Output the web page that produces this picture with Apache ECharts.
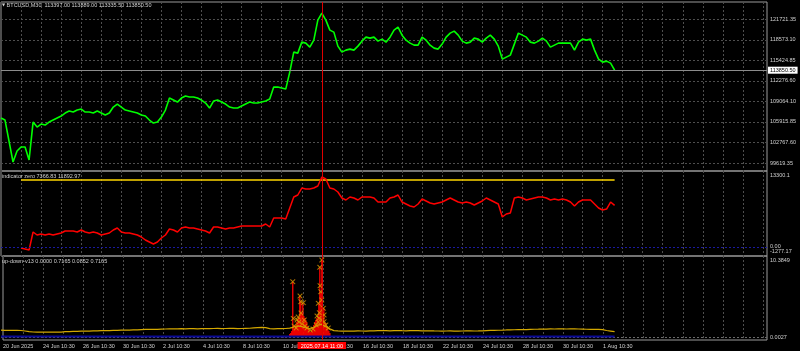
<!DOCTYPE html>
<html><head><meta charset="utf-8">
<script src="https://cdn.jsdelivr.net/npm/echarts@6/dist/echarts.min.js"></script>
<style>html,body{margin:0;padding:0;background:#000}#c{width:800px;height:351px}</style>
</head><body><div id="c"></div>
<script>
// ---------- data ----------
const symbolName = 'BTCUSD,M30';
const headerVals = ['113397.00', '113889.00', '113335.50', '113850.50'];
const lastPrice = 113850.50;
const indName = 'indicator zero';
const indHeader = ['7366.83', '11892.97'];
const udName = 'up-down-v13';
const udHeader = ['0.0000', '0.7165', '0.0852', '0.7165'];

const labelIdx = [0, 10, 20, 30, 40, 50, 60, 70, 80, 90, 100, 110, 120, 130, 140, 150];
const labelText = ['20 Jun 2025', '24 Jun 10:30', '26 Jun 10:30', '30 Jun 10:30', '2 Jul 10:30', '4 Jul 10:30',
  '8 Jul 10:30', '10 Jul 10:30', '14 Jul 10:30', '16 Jul 10:30', '18 Jul 10:30', '22 Jul 10:30',
  '24 Jul 10:30', '28 Jul 10:30', '30 Jul 10:30', '1 Aug 10:30'];
const crossIdx = 80;
const crossLabel = '2025.07.14 11:00';

const priceTicks = ['99619.35', '102767.60', '105915.85', '109064.10', '112276.60', '115424.85', '118573.10', '121721.35'];
const indTicks = ['-1277.17', '0.00', '13300.1'];
const udTicks = ['0.0027', '10.3849'];

const priceVals = [106512,106206,102989,99772,101457,102070,102070,100078,105900,105134,
105593,105440,105900,106206,106512,106819,107279,107585,107432,107738,
107891,107432,107432,107279,107585,107279,106972,107279,108198,108657,
108198,107738,107585,107432,107279,106972,106819,106206,105747,105900,
106666,107738,109577,109270,108964,109577,109883,109730,109730,109577,
109270,108810,108045,109117,109270,108964,108657,108198,108045,108045,
108351,108657,108964,108810,108810,108964,109117,109423,111262,111262,
111109,110955,113560,116624,116471,118156,118003,117390,118462,121526,
122599,121526,119994,119688,117543,116624,116930,117084,116930,117543,
118309,118922,118769,118922,118309,118615,118156,118922,119994,120454,
119228,118462,118003,117696,117696,118922,118462,117696,117237,117084,
117850,118922,119535,119841,119228,118309,118003,118156,118769,118615,
118156,118769,119228,118615,117543,115552,115858,116164,117850,119535,
119228,118922,118156,118003,118309,118769,118309,117390,117696,118003,
118003,118003,118003,116930,118156,118615,118462,118615,116930,115552,
115092,115245,114939,113850.5];

const indVals = [null,null,null,null,null,-213,-391,-568,2632,2099,
2276,2099,2276,2099,2276,2454,2810,2810,2810,2632,
2988,2632,2454,2632,2454,2099,2276,2454,2988,3343,
2632,2454,2454,2276,2099,1743,1210,854,498,854,
1565,2099,3165,2988,2632,3343,3521,3343,3343,3165,
2988,2810,2454,3521,3521,3343,3165,3343,3343,3521,
3699,3699,3699,3699,3699,3699,4054,3521,5121,5121,
5121,4943,6899,8855,9211,10455,10277,10277,10455,10811,
12411,12055,10455,10277,9744,8677,8322,8855,8677,8322,
8855,8855,8855,8677,7966,7966,7966,8677,8855,9211,
7966,7610,7255,7077,7610,8499,8144,7788,7610,7788,
7966,8322,8677,8322,7966,7788,7966,7788,7433,7788,
8144,8677,8322,7966,7610,5299,5832,6010,8677,8855,
8677,8322,8499,8677,8855,8855,8677,8322,8499,8322,
8499,8322,7966,7255,7966,8322,8322,8322,7610,6899,
6544,6721,7966,7366.83];

const indLevel = 11892.97;
const indLevelIdx = [5, 153];

const udYellow = [0.92,0.90,0.91,0.89,0.90,0.88,0.81,0.72,
0.68,0.66,0.67,0.65,0.67,0.68,0.66,0.67,
0.72,0.74,0.75,0.76,
0.79,0.81,0.80,0.83,0.82,
0.86,0.88,0.87,0.89,0.90,
0.92,0.94,0.93,0.95,0.96,
1.00,1.03,1.02,1.05,1.04,1.06,
1.08,1.10,1.11,1.09,1.12,1.11,1.13,1.12,1.10,1.12,
1.14,1.13,1.15,1.16,1.14,1.15,1.17,1.16,1.14,1.15,1.17,1.18,
1.24,1.28,1.29,1.26,
1.14,1.11,1.12,1.13,1.15,
1.20,1.35,1.50,1.40,1.25,1.15,1.30,1.60,1.70,1.40,1.10,
0.86,0.82,0.80,0.81,0.79,0.80,0.82,0.81,0.80,0.82,
0.84,0.85,0.86,0.85,0.84,0.86,0.87,0.85,0.84,0.85,0.86,0.85,0.84,0.83,0.84,
0.82,0.81,0.80,0.81,0.82,0.80,0.79,0.81,0.82,0.83,0.81,0.82,0.84,
0.87,0.89,0.90,0.91,0.92,
0.95,0.97,0.98,0.99,1.00,1.01,1.03,
1.05,1.06,1.08,1.07,1.09,1.08,1.10,1.09,1.08,1.09,1.10,1.08,1.07,
1.05,1.04,1.03,1.02,1.00,
0.88,0.80,0.7165];

const navyIdx = [0, 153];
const navyVals = [0.0852, 0.0852];

const histStart = 72, histStep = 0.25;
const histVals = [0.40,0.54,0.81,7.46,1.48,1.21,1.62,2.02,2.43,2.70,
5.53,4.76,3.24,4.63,2.83,2.56,2.29,2.02,1.48,1.08,
0.81,0.67,0.94,1.35,1.62,2.02,2.29,2.56,2.83,4.54,
9.40,6.11,10.3849,3.37,3.87,2.06,1.89,1.48,1.08,0.81,
0.54];

const markerIdx = [72.74,74.56,74.74,75.39,74.81,72.89,73.07,80.0,79.48,79.55,79.73,79.98,79.13,80.37,79.38,79.30,80.55,
73.8,74.3,75.1,75.8,76.3,73.6,77.8,78.6,79.1,80.1,81.0,81.6,77.1,75.6,74.1,80.55,78.8];
const markerVals = [7.46,5.53,4.76,4.63,3.24,2.51,1.48,10.3849,9.40,6.92,6.11,4.99,4.54,3.87,3.28,2.52,2.06,
2.29,2.02,1.75,1.48,1.21,1.21,1.08,1.62,2.02,2.29,1.62,1.21,0.94,2.29,2.70,2.97,2.83];

// ---------- layout / style ----------
const XMAX = 191;
const FONT = 'Liberation Sans';
const FS = 5.5;
const TXT = '#d0d0d0';
const GRIDC = '#4e4e4e';
const FRAMEC = '#9a9a9a';
const PBASE = 99619.35, PSTEP = 3148.25, PMIN = 96471.10, PMAX = 124310;
const IMIN = -1277.17, IMAX = 13300.1;
const UMIN = 0.0027, UMAX = 10.3849;

const L = 1, R = 33;
const txtStyle = {color: TXT, fontSize: FS, fontFamily: FONT, fontWeight: 'normal'};

function frameX(gi, labels) {
  return {
    type: 'value', gridIndex: gi, min: 0, max: XMAX, interval: 5,
    axisLine: {show: false}, axisTick: {show: false},
    axisLabel: labels ? {
      show: true, align: 'left', margin: 3, color: TXT, fontSize: FS, fontFamily: FONT,
      formatter: function (v) {
        const r = Math.round(v);
        if (Math.abs(v - r) > 1e-6) return '';
        const k = labelIdx.indexOf(r);
        return k >= 0 ? labelText[k] : '';
      }
    } : {show: false},
    splitLine: {show: true, lineStyle: {color: GRIDC, type: [2, 2], width: 1}}
  };
}
function hiddenX(gi) { return {type: 'value', gridIndex: gi, min: 0, max: XMAX, show: false}; }
function hiddenY(gi) { return {type: 'value', gridIndex: gi, min: 0, max: 1, show: false}; }

const xSymbol = 'path://M0,1 L1,0 L5,4 L9,0 L10,1 L6,5 L10,9 L9,10 L5,6 L1,10 L0,9 L4,5 Z';

const option = {
  backgroundColor: '#000',
  animation: false,
  title: [
    {text: '{i|▼} ' + symbolName + '  ' + headerVals.join(' '), left: 2, top: 2, padding: 0,
      textStyle: Object.assign({}, txtStyle, {rich: {i: {fontSize: 4, color: TXT, fontFamily: 'DejaVu Sans'}}})},
    {text: indName + ' ' + indHeader.join(' '), left: 2, top: 173, padding: 0, textStyle: txtStyle},
    {text: udName + ' ' + udHeader.join(' '), left: 2, top: 258, padding: 0, textStyle: txtStyle}
  ],
  grid: [
    {left: L, right: R, top: 2, height: 169, show: true, borderColor: FRAMEC, borderWidth: 1},
    {left: L, right: R, top: 171, height: 85, show: true, borderColor: FRAMEC, borderWidth: 1},
    {left: L, right: R, top: 256, height: 84, show: true, borderColor: FRAMEC, borderWidth: 1},
    {left: L, right: R, top: 2, height: 181.53},
    {left: L, right: R, top: 172, height: 82},
    {left: L, right: R, top: 260, height: 77},
    {left: L, right: R, top: 2, height: 338}
  ],
  xAxis: [frameX(0, false), frameX(1, false), frameX(2, true), hiddenX(3), hiddenX(4), hiddenX(5), hiddenX(6)],
  yAxis: [
    hiddenY(0), hiddenY(1), hiddenY(2),
    {type: 'value', gridIndex: 3, position: 'right', min: PMIN, max: PMAX, interval: PSTEP,
      axisLine: {show: false}, axisTick: {show: false},
      axisLabel: {color: TXT, fontSize: FS, fontFamily: FONT, margin: 3,
        formatter: function (v) {
          const k = Math.round((v - PBASE) / PSTEP);
          if (k < 0 || k >= priceTicks.length || Math.abs(v - PBASE - k * PSTEP) > 1) return '';
          return priceTicks[k];
        }},
      splitLine: {show: true, showMinLine: false, showMaxLine: false, lineStyle: {color: GRIDC, type: [2, 2], width: 1}}},
    {type: 'value', gridIndex: 4, position: 'right', min: IMIN, max: IMAX, interval: -IMIN,
      axisLine: {show: false}, axisTick: {show: false},
      axisLabel: {color: TXT, fontSize: FS, fontFamily: FONT, margin: 3, showMinLabel: true, showMaxLabel: true,
        verticalAlignMaxLabel: 'top', verticalAlignMinLabel: 'bottom',
        formatter: function (v) {
          if (Math.abs(v - IMAX) < 1e-4) return indTicks[2];
          if (Math.abs(v - IMIN) < 1e-4) return indTicks[0];
          return '';
        }},
      splitLine: {show: false}},
    {type: 'value', gridIndex: 5, position: 'right', min: UMIN, max: UMAX, interval: UMAX - UMIN,
      axisLine: {show: false}, axisTick: {show: false},
      axisLabel: {color: TXT, fontSize: FS, fontFamily: FONT, margin: 3, showMinLabel: true, showMaxLabel: true,
        formatter: function (v) { return v < (UMIN + UMAX) / 2 ? udTicks[0] : udTicks[1]; }},
      splitLine: {show: true, showMaxLine: false, lineStyle: {color: '#6a6a6a', type: [2, 2], width: 1}}},
    hiddenY(6)
  ],
  series: [
    {type: 'line', xAxisIndex: 3, yAxisIndex: 3, data: priceVals.map((v, i) => [i, v]),
      symbol: 'none', lineStyle: {color: '#00ff00', width: 1.6}, z: 3,
      markLine: {symbol: ['none', 'none'], silent: true, animation: false,
        lineStyle: {color: '#8c8c8c', type: 'solid', width: 1},
        label: {show: true, position: 'end', distance: 1, formatter: headerVals[3], color: '#000',
          backgroundColor: '#ffffff', padding: [1, 2, 0, 2], fontSize: FS, fontFamily: FONT},
        data: [{yAxis: lastPrice}]}},
    {type: 'line', xAxisIndex: 4, yAxisIndex: 4, data: indVals.map((v, i) => [i, v]),
      symbol: 'none', lineStyle: {color: '#ff0000', width: 1.5}, z: 3,
      markLine: {symbol: ['none', 'none'], silent: true, animation: false,
        label: {show: true, position: 'end', distance: 3, formatter: indTicks[1], color: TXT,
          fontSize: FS, fontFamily: FONT},
        lineStyle: {color: '#1a1aa0', type: [2, 2], width: 1}, data: [{yAxis: 0}]}},
    {type: 'line', xAxisIndex: 4, yAxisIndex: 4, data: indLevelIdx.map(i => [i, indLevel]),
      symbol: 'none', lineStyle: {color: '#ffd700', width: 1.5}, z: 2},
    {type: 'bar', xAxisIndex: 5, yAxisIndex: 5, data: histVals.map((v, k) => [histStart + k * histStep, v]),
      barWidth: 1.3, itemStyle: {color: '#ff0000'}, z: 1},
    {type: 'line', xAxisIndex: 5, yAxisIndex: 5, data: navyIdx.map((x, k) => [x, navyVals[k]]),
      symbol: 'none', lineStyle: {color: '#0a0a96', width: 2}, z: 2},
    {type: 'line', xAxisIndex: 5, yAxisIndex: 5, data: udYellow.map((v, i) => [i, v]),
      symbol: 'none', lineStyle: {color: '#d4a800', width: 1.2}, z: 3},
    {type: 'scatter', xAxisIndex: 5, yAxisIndex: 5, data: markerIdx.map((x, k) => [x, markerVals[k]]),
      symbol: xSymbol, symbolSize: 5, itemStyle: {color: '#ffcc00', borderColor: '#b06000', borderWidth: 0.4}, z: 4},
    {type: 'line', xAxisIndex: 6, yAxisIndex: 6, data: [], z: 5,
      markLine: {symbol: ['none', 'none'], silent: true, animation: false,
        lineStyle: {color: '#e00000', type: 'solid', width: 1},
        label: {show: true, position: 'start', distance: 2, formatter: crossLabel, color: '#ffffff',
          backgroundColor: '#ff0000', padding: [1, 3, 0, 3], fontSize: FS, fontFamily: FONT},
        data: [{xAxis: crossIdx}]}}
  ]
};
const chart = echarts.init(document.getElementById('c'), null, {renderer: 'canvas'});
chart.setOption(option);
</script></body></html>
